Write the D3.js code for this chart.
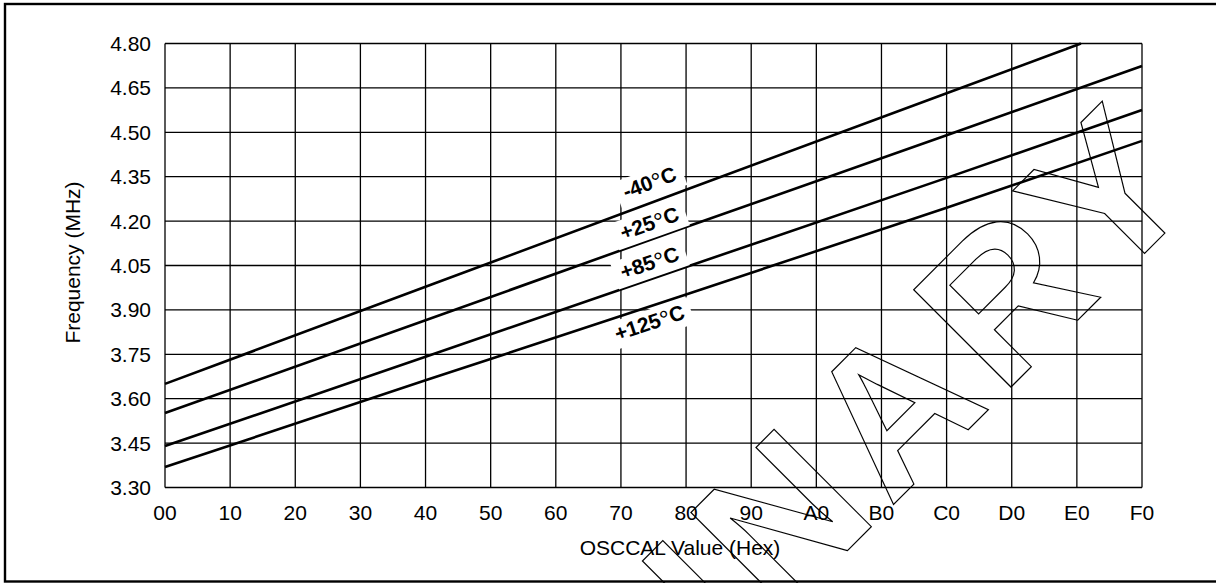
<!DOCTYPE html>
<meta charset="utf-8">
<title>Calibrated oscillator frequency vs. OSCCAL value</title>
<style>
*{
  margin: 0;
  padding: 0;
}
body{
  background: #fff;
  font-family: "Liberation Sans", Arial, sans-serif;
}
svg{
  display: block;
}
.grid line{
  stroke: #000;
  stroke-width: 1.3;
}
.curve{
  fill: none;
  stroke: #000;
  stroke-width: 2.6;
}
.ticklabel{
  font-size: 21px;
  fill: #000;
}
.templabel{
  font-size: 21px;
  font-weight: bold;
}
.templabel .deg{
  font-weight: normal;
  font-size: 25px;
}
.watermark{
  font-size: 200px;
  font-weight: bold;
  letter-spacing: 13px;
  fill: none;
  stroke: #000;
  stroke-width: 1.2;
}
</style>
<body>
<div id="chart"></div>
<script src="https://d3js.org/d3.v7.min.js"></script>
<script>

// data
var xTicks = [0x00, 0x10, 0x20, 0x30, 0x40, 0x50, 0x60, 0x70, 0x80, 0x90, 0xA0, 0xB0, 0xC0, 0xD0, 0xE0, 0xF0];
var yTicks = [3.30, 3.45, 3.60, 3.75, 3.90, 4.05, 4.20, 4.35, 4.50, 4.65, 4.80];

var tempNames = ["-40", "+25", "+85", "+125"]; // shown with °C

var osccalM40 = [0x00, 0x40, 0x80, 0xC0, 0xE1]; // -40 line leaves the grid near E1
var osccal = [0x00, 0x40, 0x80, 0xC0, 0xF0];

var freqM40 = [3.650, 3.978, 4.306, 4.632, 4.800];
var freq25  = [3.552, 3.865, 4.180, 4.490, 4.724];
var freq85  = [3.440, 3.742, 4.045, 4.346, 4.575];
var freq125 = [3.369, 3.662, 3.952, 4.245, 4.471];

var series = [
  {name: tempNames[0], x: osccalM40, y: freqM40},
  {name: tempNames[1], x: osccal, y: freq25},
  {name: tempNames[2], x: osccal, y: freq85},
  {name: tempNames[3], x: osccal, y: freq125}
];

// where the temperature labels sit: osccal value and pixel shift from the line
var labelAt = 119;
var labelShift = [-21, -17, -17, 16];

var width = 1216, height = 583;
// note: "top" is taken by window.top, so prefix the plot edges
var plotLeft = 165, plotRight = 1142, plotTop = 43.5, plotBottom = 487.5;

var svg = d3.select("#chart").append("svg")
  .attr("width", width)
  .attr("height", height);

// outer frame (right side is cut off in the original)
svg.append("rect")
  .attr("x", 5).attr("y", 4)
  .attr("width", 1240).attr("height", 577.5)
  .attr("fill", "none")
  .attr("stroke", "#000")
  .attr("stroke-width", 2.4);

var x = d3.scaleLinear().domain([0, 0xF0]).range([plotLeft, plotRight]);
var y = d3.scaleLinear().domain([3.30, 4.80]).range([plotBottom, plotTop]);

function hex(v){
  return v.toString(16).toUpperCase().padStart(2, "0");
}

/* grid */
var grid = svg.append("g").attr("class", "grid");
grid.selectAll(".v").data(xTicks).enter().append("line")
  .attr("x1", function(d){ return x(d); })
  .attr("x2", function(d){ return x(d); })
  .attr("y1", plotTop).attr("y2", plotBottom);
grid.selectAll(".h").data(yTicks).enter().append("line")
  .attr("x1", plotLeft).attr("x2", plotRight)
  .attr("y1", function(d){ return y(d); })
  .attr("y2", function(d){ return y(d); });

/* tick labels */
svg.append("g").selectAll("text").data(yTicks).enter().append("text")
  .attr("class", "ticklabel")
  .attr("x", plotLeft - 14)
  .attr("y", function(d){ return y(d); })
  .attr("dy", "0.36em")
  .attr("text-anchor", "end")
  .text(function(d){ return d.toFixed(2); });

svg.append("g").selectAll("text").data(xTicks).enter().append("text")
  .attr("class", "ticklabel")
  .attr("x", function(d){ return x(d); })
  .attr("y", plotBottom + 32.5)
  .attr("text-anchor", "middle")
  .text(hex);

/* axis titles */
svg.append("text")
  .attr("class", "ticklabel")
  .attr("x", 680).attr("y", 555)
  .attr("text-anchor", "middle")
  .text("OSCCAL Value (Hex)");

svg.append("text")
  .attr("class", "ticklabel")
  .attr("transform", "translate(80,262.5) rotate(-90)")
  .attr("text-anchor", "middle")
  .text("Frequency (MHz)");

/* temperature labels, with white boxes that hide the grid behind them */
function valueAt(s, v){
  return d3.scaleLinear().domain(s.x).range(s.y)(v);
}

var labels = svg.append("g");
series.forEach(function(s, i){
  var n = s.x.length;
  var dx = x(s.x[n-1]) - x(s.x[0]);
  var dy = y(s.y[n-1]) - y(s.y[0]);
  var angle = Math.atan2(dy, dx) * 180 / Math.PI;
  var cx = x(labelAt), cy = y(valueAt(s, labelAt)) + labelShift[i];
  var g = labels.append("g")
    .attr("transform", "translate(" + cx + "," + cy + ") rotate(" + angle + ")");
  var t = g.append("text")
    .attr("class", "templabel")
    .attr("text-anchor", "middle")
    .attr("y", 7.5);
  t.append("tspan").text(s.name);
  t.append("tspan").attr("class", "deg").attr("dy", 3).text("°");
  t.append("tspan").attr("dy", -3).text("C");
  var bb = t.node().getBBox();
  g.insert("rect", "text")
    .attr("x", bb.x - 7).attr("y", bb.y)
    .attr("width", bb.width + 14).attr("height", bb.height)
    .attr("fill", "#fff");
});

/* curves */
var line = d3.line()
  .x(function(d){ return x(d[0]); })
  .y(function(d){ return y(d[1]); });

svg.append("g").selectAll("path").data(series).enter().append("path")
  .attr("class", "curve")
  .attr("d", function(s){ return line(d3.zip(s.x, s.y)); });

// labels stay above the lines
labels.raise();

/* watermark */
svg.append("text")
  .attr("class", "watermark")
  .attr("transform", "translate(1211,187) rotate(-45)")
  .attr("text-anchor", "end")
  .text("PRELIMINARY");

</script>
</body>
</html>
